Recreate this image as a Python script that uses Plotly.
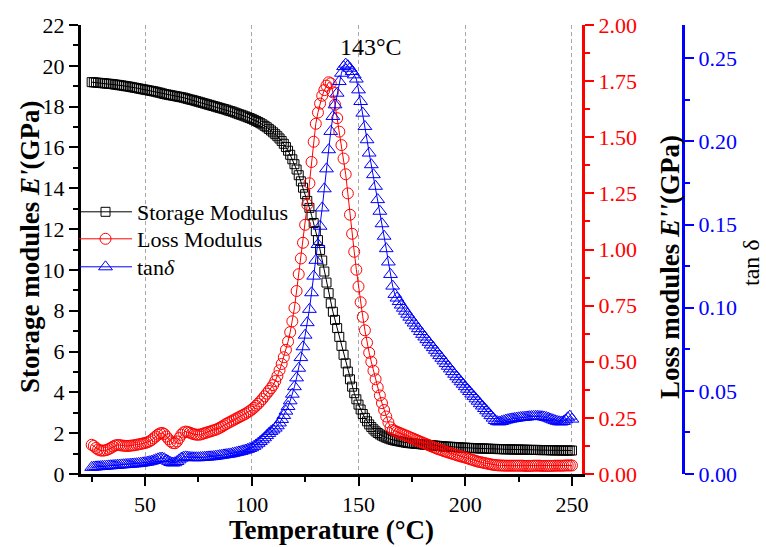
import plotly.graph_objects as go

# ---------------- data ----------------
temperature = [
    25, 26, 27, 28, 29, 30, 31, 32, 33, 34, 35, 36, 37, 38, 39, 40, 41, 42, 43, 44,
    45, 46, 47, 48, 49, 50, 51, 52, 53, 54, 55, 56, 57, 58, 59, 60, 61, 62, 63, 64,
    65, 66, 67, 68, 69, 70, 71, 72, 73, 74, 75, 76, 77, 78, 79, 80, 81, 82, 83, 84,
    85, 86, 87, 88, 89, 90, 91, 92, 93, 94, 95, 96, 97, 98, 99, 100, 101, 102, 103, 104,
    105, 106, 107, 108, 109, 110, 111, 112, 113, 114, 115, 116, 117, 118, 119, 120, 121, 122, 123, 124,
    125, 126, 127, 128, 129, 130, 131, 132, 133, 134, 135, 136, 137, 138, 139, 140, 141, 142, 143, 144,
    145, 146, 147, 148, 149, 150, 151, 152, 153, 154, 155, 156, 157, 158, 159, 160, 161, 162, 163, 164,
    165, 166, 167, 168, 169, 170, 171, 172, 173, 174, 175, 176, 177, 178, 179, 180, 181, 182, 183, 184,
    185, 186, 187, 188, 189, 190, 191, 192, 193, 194, 195, 196, 197, 198, 199, 200, 201, 202, 203, 204,
    205, 206, 207, 208, 209, 210, 211, 212, 213, 214, 215, 216, 217, 218, 219, 220, 221, 222, 223, 224,
    225, 226, 227, 228, 229, 230, 231, 232, 233, 234, 235, 236, 237, 238, 239, 240, 241, 242, 243, 244,
    245, 246, 247, 248, 249, 250,
]

storage_modulus = [
    19.20, 19.19, 19.18, 19.17, 19.16, 19.15, 19.14, 19.13, 19.12, 19.11, 19.10, 19.08, 19.07, 19.05, 19.04, 19.02, 19.00, 18.99, 18.97, 18.95,
    18.93, 18.91, 18.89, 18.87, 18.85, 18.83, 18.81, 18.79, 18.77, 18.75, 18.73, 18.70, 18.68, 18.65, 18.62, 18.60, 18.58, 18.56, 18.54, 18.52,
    18.50, 18.48, 18.46, 18.44, 18.41, 18.38, 18.35, 18.33, 18.30, 18.27, 18.24, 18.21, 18.18, 18.15, 18.12, 18.09, 18.06, 18.03, 18.00, 17.97,
    17.94, 17.91, 17.88, 17.85, 17.81, 17.78, 17.75, 17.71, 17.67, 17.63, 17.60, 17.56, 17.52, 17.48, 17.44, 17.40, 17.35, 17.30, 17.25, 17.19,
    17.13, 17.06, 16.99, 16.91, 16.83, 16.74, 16.65, 16.55, 16.44, 16.32, 16.18, 16.02, 15.84, 15.64, 15.42, 15.18, 14.92, 14.64, 14.34, 14.03,
    13.71, 13.38, 13.04, 12.68, 12.30, 11.90, 11.46, 10.98, 10.46, 9.92, 9.38, 8.86, 8.36, 7.95, 7.55, 7.15, 6.72, 6.28, 5.84, 5.42,
    5.02, 4.64, 4.28, 3.96, 3.66, 3.40, 3.16, 2.94, 2.75, 2.58, 2.43, 2.30, 2.19, 2.09, 2.01, 1.94, 1.88, 1.83, 1.78, 1.74,
    1.70, 1.67, 1.64, 1.62, 1.60, 1.58, 1.56, 1.54, 1.52, 1.51, 1.50, 1.49, 1.48, 1.47, 1.46, 1.45, 1.44, 1.43, 1.42, 1.41,
    1.40, 1.39, 1.38, 1.37, 1.36, 1.35, 1.34, 1.34, 1.33, 1.33, 1.32, 1.31, 1.31, 1.30, 1.29, 1.29, 1.28, 1.28, 1.27, 1.27,
    1.26, 1.26, 1.25, 1.25, 1.25, 1.24, 1.24, 1.23, 1.23, 1.23, 1.22, 1.22, 1.22, 1.21, 1.21, 1.21, 1.21, 1.20, 1.20, 1.20,
    1.20, 1.19, 1.19, 1.19, 1.19, 1.18, 1.18, 1.18, 1.18, 1.18, 1.17, 1.17, 1.17, 1.17, 1.17, 1.16, 1.16, 1.16, 1.16, 1.16,
    1.15, 1.15, 1.15, 1.15, 1.15, 1.15,
]

loss_modulus = [
    0.130, 0.125, 0.116, 0.109, 0.105, 0.104, 0.105, 0.107, 0.111, 0.116, 0.122, 0.127, 0.129, 0.129, 0.127, 0.126, 0.125, 0.125, 0.126, 0.127,
    0.128, 0.130, 0.132, 0.134, 0.136, 0.138, 0.141, 0.145, 0.151, 0.159, 0.167, 0.175, 0.181, 0.183, 0.178, 0.167, 0.155, 0.145, 0.138, 0.137,
    0.145, 0.160, 0.175, 0.185, 0.189, 0.187, 0.184, 0.180, 0.177, 0.175, 0.175, 0.176, 0.179, 0.182, 0.185, 0.188, 0.191, 0.194, 0.197, 0.201,
    0.206, 0.211, 0.217, 0.223, 0.228, 0.233, 0.238, 0.243, 0.248, 0.253, 0.258, 0.263, 0.268, 0.274, 0.280, 0.287, 0.295, 0.304, 0.313, 0.323,
    0.334, 0.346, 0.358, 0.370, 0.382, 0.396, 0.414, 0.436, 0.462, 0.490, 0.520, 0.553, 0.590, 0.632, 0.680, 0.740, 0.815, 0.890, 0.960, 1.030,
    1.110, 1.200, 1.295, 1.390, 1.480, 1.560, 1.610, 1.650, 1.685, 1.710, 1.730, 1.745, 1.740, 1.700, 1.645, 1.585, 1.525, 1.465, 1.405, 1.335,
    1.250, 1.155, 1.070, 0.990, 0.910, 0.835, 0.765, 0.700, 0.640, 0.585, 0.540, 0.500, 0.460, 0.422, 0.386, 0.350, 0.316, 0.285, 0.256, 0.230,
    0.208, 0.196, 0.192, 0.188, 0.184, 0.180, 0.176, 0.172, 0.168, 0.164, 0.160, 0.156, 0.152, 0.148, 0.144, 0.140, 0.136, 0.132, 0.128, 0.124,
    0.120, 0.116, 0.112, 0.109, 0.106, 0.102, 0.099, 0.096, 0.093, 0.090, 0.087, 0.084, 0.081, 0.078, 0.076, 0.073, 0.070, 0.067, 0.064, 0.061,
    0.058, 0.055, 0.053, 0.051, 0.049, 0.047, 0.045, 0.043, 0.041, 0.040, 0.039, 0.038, 0.038, 0.037, 0.037, 0.037, 0.037, 0.037, 0.037, 0.037,
    0.037, 0.037, 0.037, 0.036, 0.036, 0.036, 0.036, 0.037, 0.037, 0.037, 0.037, 0.036, 0.036, 0.036, 0.036, 0.036, 0.036, 0.037, 0.037, 0.037,
    0.037, 0.037, 0.038, 0.038, 0.038, 0.038,
]

tan_delta = [
    0.0040, 0.0042, 0.0043, 0.0044, 0.0045, 0.0046, 0.0047, 0.0048, 0.0049, 0.0050, 0.0051, 0.0052, 0.0053, 0.0054, 0.0055, 0.0056, 0.0057, 0.0058, 0.0059, 0.0060,
    0.0061, 0.0062, 0.0064, 0.0065, 0.0067, 0.0069, 0.0071, 0.0074, 0.0077, 0.0081, 0.0086, 0.0091, 0.0095, 0.0096, 0.0092, 0.0084, 0.0076, 0.0069, 0.0066, 0.0068,
    0.0075, 0.0085, 0.0095, 0.0101, 0.0103, 0.0102, 0.0100, 0.0099, 0.0098, 0.0098, 0.0098, 0.0099, 0.0100, 0.0101, 0.0102, 0.0103, 0.0104, 0.0105, 0.0107, 0.0109,
    0.0111, 0.0113, 0.0115, 0.0117, 0.0119, 0.0121, 0.0124, 0.0127, 0.0130, 0.0133, 0.0136, 0.0140, 0.0144, 0.0148, 0.0153, 0.0158, 0.0166, 0.0175, 0.0185, 0.0195,
    0.0206, 0.0218, 0.0231, 0.0244, 0.0256, 0.0265, 0.0276, 0.0290, 0.0307, 0.0328, 0.0352, 0.0378, 0.0406, 0.0440, 0.0480, 0.0525, 0.0578, 0.0636, 0.0700, 0.0765,
    0.0835, 0.0910, 0.0990, 0.1090, 0.1190, 0.1285, 0.1380, 0.1490, 0.1600, 0.1715, 0.1835, 0.1950, 0.2060, 0.2150, 0.2220, 0.2290, 0.2360, 0.2410, 0.2450, 0.2465,
    0.2455, 0.2440, 0.2420, 0.2400, 0.2375, 0.2310, 0.2240, 0.2170, 0.2090, 0.2010, 0.1930, 0.1860, 0.1800, 0.1730, 0.1650, 0.1580, 0.1505, 0.1430, 0.1355, 0.1275,
    0.1200, 0.1130, 0.1080, 0.1058, 0.1037, 0.1016, 0.0997, 0.0979, 0.0961, 0.0943, 0.0925, 0.0908, 0.0891, 0.0874, 0.0857, 0.0840, 0.0824, 0.0808, 0.0792, 0.0776,
    0.0760, 0.0744, 0.0728, 0.0712, 0.0696, 0.0680, 0.0664, 0.0648, 0.0632, 0.0616, 0.0600, 0.0585, 0.0570, 0.0555, 0.0540, 0.0525, 0.0510, 0.0496, 0.0481, 0.0467,
    0.0452, 0.0438, 0.0423, 0.0409, 0.0394, 0.0380, 0.0366, 0.0351, 0.0336, 0.0322, 0.0315, 0.0313, 0.0316, 0.0320, 0.0324, 0.0327, 0.0330, 0.0332, 0.0334, 0.0336,
    0.0338, 0.0340, 0.0341, 0.0342, 0.0343, 0.0345, 0.0346, 0.0347, 0.0347, 0.0347, 0.0346, 0.0345, 0.0343, 0.0340, 0.0336, 0.0331, 0.0326, 0.0321, 0.0317, 0.0314,
    0.0313, 0.0316, 0.0325, 0.0338, 0.0348, 0.0330,
]

x_ticks = [50, 100, 150, 200, 250]
x_minor_ticks = [25, 75, 125, 175, 225]
left_ticks = [0, 2, 4, 6, 8, 10, 12, 14, 16, 18, 20, 22]
red_ticks = [0.0, 0.25, 0.5, 0.75, 1.0, 1.25, 1.5, 1.75, 2.0]
blue_ticks = [0.0, 0.05, 0.10, 0.15, 0.20, 0.25]

series_names = ["Storage Modulus", "Loss Modulus", "tan<i>δ</i>"]
peak_label = "143°C"
peak_temperature = 155.9
peak_label_height = 20.9

SERIF = "Liberation Serif"
BLACK = "#000000"
RED = "#ff0000"
BLUE = "#0000ff"

# page geometry (pixels of the 766x547 picture)
W, H = 766, 547
PL, PT, PB, PR = 81, 25, 474, 10     # plot left / top / bottom edges, right margin
PLOT_RIGHT = 582
BLUE_AXIS_X = 683
PW = W - PL - PR
PH = PB - PT


def px(xp):
    return (xp - PL) / PW


def py(yp):
    return (PB - yp) / PH


fig = go.Figure()
fig.add_trace(go.Scatter(
    x=temperature, y=storage_modulus, name=series_names[0], mode="lines+markers",
    line=dict(color=BLACK, width=1),
    marker=dict(symbol="square-open", size=9, color=BLACK, line=dict(width=1)),
    yaxis="y", xaxis="x", legend="legend",
))
fig.add_trace(go.Scatter(
    x=temperature, y=loss_modulus, name=series_names[1], mode="lines+markers",
    line=dict(color=RED, width=1),
    marker=dict(symbol="circle-open", size=11, color=RED, line=dict(width=1)),
    yaxis="y2", xaxis="x", legend="legend2",
))
fig.add_trace(go.Scatter(
    x=temperature, y=tan_delta, name=series_names[2], mode="lines+markers",
    line=dict(color=BLUE, width=1),
    marker=dict(symbol="triangle-up-open", size=12, color=BLUE, line=dict(width=1)),
    yaxis="y3", xaxis="x", legend="legend3",
))

XDOM = [0, px(PLOT_RIGHT)]
XRANGE = [20.0, 254.7]
tickfont = dict(family=SERIF, size=22)


def legend_box(ycenter):
    return dict(
        x=px(74), y=py(ycenter), xanchor="left", yanchor="middle",
        bgcolor="rgba(0,0,0,0)", borderwidth=0,
        font=dict(family=SERIF, size=22, color=BLACK),
        itemwidth=53,
    )


fig.update_layout(
    width=W, height=H,
    margin=dict(l=PL, r=PR, t=PT, b=H - PB, autoexpand=False),
    plot_bgcolor="white", paper_bgcolor="white",
    font=dict(family=SERIF, size=22, color=BLACK),
    showlegend=True,
    legend=legend_box(212),
    legend2=legend_box(239),
    legend3=legend_box(267),
    xaxis=dict(
        domain=XDOM, range=XRANGE, anchor="y", automargin=False,
        tickvals=x_ticks, ticks="outside", ticklen=9, tickwidth=2, tickcolor=BLACK,
        tickfont=tickfont,
        showline=True, linewidth=3, linecolor=BLACK,
        showgrid=True, gridcolor="#a8a8a8", griddash="4px,3px", gridwidth=1,
        zeroline=False,
        minor=dict(tickvals=x_minor_ticks, ticks="outside", ticklen=5, tickwidth=2,
                   tickcolor=BLACK, showgrid=False),
    ),
    xaxis2=dict(
        domain=XDOM, range=XRANGE, overlaying="x", side="top", anchor="y", automargin=False,
        tickvals=x_ticks, ticks="inside", ticklen=9, tickwidth=2, tickcolor=BLACK,
        showticklabels=False, showline=True, linewidth=3, linecolor=BLACK,
        showgrid=False, zeroline=False,
        minor=dict(tickvals=x_minor_ticks, ticks="inside", ticklen=5, tickwidth=2,
                   tickcolor=BLACK, showgrid=False),
    ),
    yaxis=dict(
        range=[0, 22], anchor="x", tickvals=left_ticks, automargin=False,
        ticks="outside", ticklen=9, tickwidth=2, tickcolor=BLACK, tickfont=tickfont,
        showline=True, linewidth=3, linecolor=BLACK,
        showgrid=False, zeroline=False,
        minor=dict(dtick=1, ticks="outside", ticklen=5, tickwidth=2, tickcolor=BLACK,
                   showgrid=False),
    ),
    yaxis2=dict(
        range=[0, 2], overlaying="y", side="right", anchor="x", automargin=False,
        tickvals=red_ticks, tickformat=".2f",
        ticks="outside", ticklen=9, tickwidth=2, tickcolor=RED,
        tickfont=dict(family=SERIF, size=22, color=RED),
        showline=True, linewidth=3, linecolor=RED,
        showgrid=False, zeroline=False,
        minor=dict(dtick=0.125, ticks="outside", ticklen=5, tickwidth=2, tickcolor=RED,
                   showgrid=False),
    ),
    yaxis3=dict(
        range=[0, 0.27], overlaying="y", side="right", anchor="free", position=px(BLUE_AXIS_X),
        automargin=False,
        tickvals=blue_ticks, tickformat=".2f",
        ticks="outside", ticklen=9, tickwidth=2, tickcolor=BLUE,
        tickfont=dict(family=SERIF, size=22, color=BLUE),
        showline=True, linewidth=3, linecolor=BLUE,
        showgrid=False, zeroline=False,
        minor=dict(dtick=0.025, ticks="outside", ticklen=5, tickwidth=2, tickcolor=BLUE,
                   showgrid=False),
    ),
    annotations=[
        dict(x=peak_temperature, y=peak_label_height, xref="x", yref="y",
             text=peak_label, showarrow=False, xanchor="center", yanchor="middle",
             font=dict(family=SERIF, size=24, color=BLACK)),
        dict(x=px(331), y=py(530), xref="paper", yref="paper",
             text="<b>Temperature (°C)</b>", showarrow=False,
             xanchor="center", yanchor="middle",
             font=dict(family=SERIF, size=27, color=BLACK)),
        dict(x=px(30), y=py(247), xref="paper", yref="paper",
             text="<b>Storage modules <i>E'</i>(GPa)</b>", textangle=-90, showarrow=False,
             xanchor="center", yanchor="middle",
             font=dict(family=SERIF, size=27, color=BLACK)),
        dict(x=px(670), y=py(267), xref="paper", yref="paper",
             text="<b>Loss modules <i>E''</i>(GPa)</b>", textangle=-90, showarrow=False,
             xanchor="center", yanchor="middle",
             font=dict(family=SERIF, size=27, color=BLACK)),
        dict(x=px(751), y=py(263), xref="paper", yref="paper",
             text="tan δ", textangle=-90, showarrow=False,
             xanchor="center", yanchor="middle",
             font=dict(family=SERIF, size=24, color=BLACK)),
    ],
)

fig.write_html("out.html", config={"displayModeBar": False},
               post_script="document.body.style.margin='0';")
